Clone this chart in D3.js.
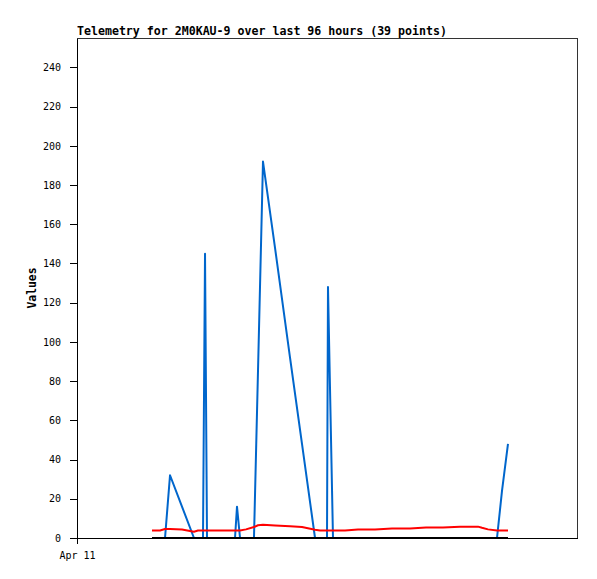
<!DOCTYPE html>
<html><head><meta charset="utf-8">
<script src="https://cdn.jsdelivr.net/npm/d3@7"></script>
<style>body{margin:0;background:#fff}svg{display:block}</style>
</head><body><div id="chart"></div>
<script>
// hours since Apr 11 00:00
const hours = [14.4,15.94,16.9,17.86,20.16,22.46,23.23,24.19,24.58,24.96,30.34,30.72,31.3,32.45,33.98,34.75,35.71,38.02,40.9,43.2,45.7,46.66,48.0,48.19,49.15,51.46,53.95,57.22,60.48,63.94,67.01,70.27,73.54,76.99,77.76,78.91,80.64,81.6,82.75];
const blueVals = [0,0,0,32,16,0,0,0,145,0,0,16,0,0,0,85,192,148,92,48,0,0,0,128,0,0,0,0,0,0,0,0,0,0,0,0,0,24,48];
const redVals = [3.8,3.8,4.6,4.6,4.3,3.2,3.8,3.8,3.8,3.8,3.8,3.8,3.8,4.4,5.6,6.5,6.8,6.4,6.0,5.6,4.2,3.8,3.8,3.8,3.8,3.8,4.3,4.3,4.8,4.8,5.3,5.3,5.8,5.8,5.2,4.4,3.8,3.8,3.8];
const blackVals = hours.map(() => 0);
const yTicks = [0,20,40,60,80,100,120,140,160,180,200,220,240];
const xTickHours = [0];
const xTickLabels = ["Apr 11"];
const titleText = "Telemetry for 2M0KAU-9 over last 96 hours (39 points)";
const yLabel = "Values";

const W = 597, H = 579;
const L = 77, R = 577, T = 38, B = 538;
const svg = d3.select("#chart").append("svg").attr("width", W).attr("height", H);
const mono = "'DejaVu Sans Mono', monospace";

const x = d3.scaleLinear().domain([0, 96]).range([L, R]);
const y = d3.scaleLinear().domain([0, 255]).range([B, T]);

// frame
svg.append("path").attr("d", `M${L},${T}H${R}V${B}`).attr("fill","none").attr("stroke","#333").attr("stroke-width",1).attr("shape-rendering","crispEdges");

// y axis
const yAxis = svg.append("g").attr("transform", `translate(${L},0)`)
  .call(d3.axisLeft(y).tickValues(yTicks).tickSize(7).tickPadding(9).tickSizeOuter(0));
yAxis.select(".domain").attr("stroke","#000").attr("shape-rendering","crispEdges");
yAxis.selectAll(".tick line").attr("stroke","#000").attr("shape-rendering","crispEdges");
yAxis.selectAll("text").attr("font-family", mono).attr("font-size", "10px").attr("fill","#000");

// x axis
const xAxis = svg.append("g").attr("transform", `translate(0,${B})`)
  .call(d3.axisBottom(x).tickValues(xTickHours).tickFormat((d,i)=>xTickLabels[i]).tickSize(6).tickPadding(8).tickSizeOuter(0));
xAxis.select(".domain").attr("stroke","#000").attr("shape-rendering","crispEdges");
xAxis.selectAll(".tick line").attr("stroke","#000").attr("shape-rendering","crispEdges");
xAxis.selectAll("text").attr("font-family", mono).attr("font-size", "10px").attr("fill","#000");

// series (black drawn last so it covers zero segments)
const series = [
  {vals: blueVals, color: "#0066cc"},
  {vals: redVals, color: "#ff0000"},
  {vals: blackVals, color: "#000000"}
];
const line = d3.line().x(d => x(d[0])).y(d => y(d[1]));
series.forEach(s => {
  svg.append("path")
    .datum(hours.map((h,i) => [h, s.vals[i]]))
    .attr("d", line)
    .attr("fill","none")
    .attr("stroke", s.color)
    .attr("stroke-width", 2)
    .attr("stroke-linejoin","round");
});

// title
svg.append("text").attr("x", L).attr("y", 35)
  .attr("font-family", mono).attr("font-size","11.6px").attr("font-weight","bold")
  .attr("fill","#000").text(titleText);

// y label
svg.append("text").attr("transform", `translate(36,${(T+B)/2}) rotate(-90)`)
  .attr("text-anchor","middle")
  .attr("font-family", mono).attr("font-size","11.4px").attr("font-weight","bold")
  .attr("fill","#000").text(yLabel);
</script>
</body></html>
